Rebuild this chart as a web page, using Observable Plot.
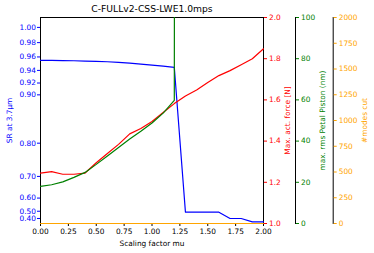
<!DOCTYPE html>
<html><head><meta charset="utf-8">
<script src="https://cdn.jsdelivr.net/npm/d3@7"></script>
<script src="https://cdn.jsdelivr.net/npm/@observablehq/plot@0.6"></script>
<style>
body{margin:0;background:#fff}
#chart{position:relative;width:374px;height:253px}
#chart svg{position:absolute;left:0;top:0}
</style></head><body><div id="chart"></div>
<script>
const title = "C-FULLv2-CSS-LWE1.0mps";
const mu = [0,0.1,0.2,0.3,0.4,0.5,0.6,0.7,0.8,0.9,1.0,1.1,1.2,1.3,1.4,1.5,1.6,1.7,1.8,1.9,2.0];
const sr = [0.955,0.955,0.9548,0.9545,0.954,0.9535,0.953,0.952,0.951,0.9495,0.948,0.9465,0.9447,0.49,0.49,0.49,0.49,0.40,0.40,0.30,0.30];
const force = [1.245,1.252,1.239,1.239,1.245,1.295,1.340,1.384,1.435,1.461,1.495,1.539,1.582,1.619,1.648,1.684,1.718,1.742,1.771,1.80,1.848];
const petal = [18.0,18.8,20.2,22.4,24.8,28.7,32.8,36.9,41.0,44.8,48.8,53.6,59.8,5000,5000,5000,5000,5000,5000,5000,5000];
const modes = [0,0,0,0,0,0,0,0,0,0,0,0,0,0,0,0,0,0,0,0,0];
const xTicks = [0,0.25,0.5,0.75,1.0,1.25,1.5,1.75,2.0];
const srTicks = [0.4,0.5,0.6,0.7,0.8,0.9,0.92,0.94,0.96,0.98,1.0];
const forceTicks = [1.0,1.2,1.4,1.6,1.8,2.0];
const petalTicks = [0,20,40,60,80,100];
const modesTicks = [0,250,500,750,1000,1250,1500,1750,2000];

const rows = mu.map((m,i)=>({mu:m, sr:sr[i], force:force[i], petal:petal[i], modes:modes[i]}));
const W=374, H=253, MT=17, MB=30, ML=40, MR=111;
const xRange=[ML, W-MR];
const common = {width:W, height:H, marginTop:MT, marginBottom:MB, marginLeft:ML,
  style:{background:"none", fontFamily:"DejaVu Sans", fontSize:"7.4px", overflow:"visible"}};
const lbl = (t, opts) => Plot.text([t], {text: d=>d, textAnchor:"middle", lineAnchor:"middle", ...opts});

const A = Plot.plot({...common, marginRight:MR,
  x:{domain:[0,2], range:xRange},
  y:{type:"pow", exponent:4, domain:[0,1.0124]},
  marks:[
    Plot.frame({stroke:"black"}),
    Plot.axisX({ticks:xTicks, tickFormat:d3.format(".2f"), tickSize:3, tickPadding:2, label:null, color:"black"}),
    Plot.axisY({ticks:srTicks, tickFormat:d3.format(".2f"), tickSize:3, tickPadding:1.5, label:null, color:"blue"}),
    Plot.line(rows, {x:"mu", y:"sr", stroke:"blue", strokeWidth:1.2}),
    lbl(title, {frameAnchor:"top", dy:-8, fontSize:9.2, fill:"black"}),
    lbl("Scaling factor mu", {frameAnchor:"bottom", dy:20, fill:"black"}),
    lbl("SR at 3.7μm", {frameAnchor:"left", dx:-30.7, rotate:-90, fill:"blue"})
  ]});

const B = Plot.plot({...common, marginRight:MR,
  x:{domain:[0,2], range:xRange, axis:null},
  y:{domain:[1,2]},
  marks:[
    Plot.axisY({anchor:"right", ticks:forceTicks, tickFormat:d3.format(".1f"), tickSize:3, tickPadding:2.5, label:null, color:"red"}),
    Plot.line(rows, {x:"mu", y:"force", stroke:"red", strokeWidth:1.2}),
    lbl("Max. act. force [N]", {frameAnchor:"right", dx:24.5, rotate:-90, fill:"red"})
  ]});

const C = Plot.plot({...common, marginRight:79,
  x:{domain:[0,2], range:xRange, axis:null},
  y:{domain:[0,100]},
  marks:[
    Plot.frame({anchor:"right", stroke:"black"}),
    Plot.axisY({anchor:"right", ticks:petalTicks, tickFormat:d3.format("d"), tickSize:3, tickPadding:2.5, label:null, color:"green"}),
    Plot.line(rows, {x:"mu", y:"petal", stroke:"green", strokeWidth:1.2, clip:true}),
    lbl("max. rms Petal Piston (nm)", {frameAnchor:"right", dx:26.7, rotate:-90, fill:"green"})
  ]});

const D = Plot.plot({...common, marginRight:41.3,
  x:{domain:[0,2], range:xRange, axis:null},
  y:{domain:[0,2000]},
  marks:[
    Plot.frame({anchor:"right", stroke:"black"}),
    Plot.axisY({anchor:"right", ticks:modesTicks, tickFormat:d3.format("d"), tickSize:3, tickPadding:2.5, label:null, color:"orange"}),
    Plot.line(rows, {x:"mu", y:"modes", stroke:"orange", strokeWidth:1.2}),
    lbl("#modes cut", {frameAnchor:"right", dx:31.3, rotate:-90, fill:"orange"})
  ]});

const el = document.getElementById("chart");
[A,B,C,D].forEach(p => el.appendChild(p));
</script></body></html>
